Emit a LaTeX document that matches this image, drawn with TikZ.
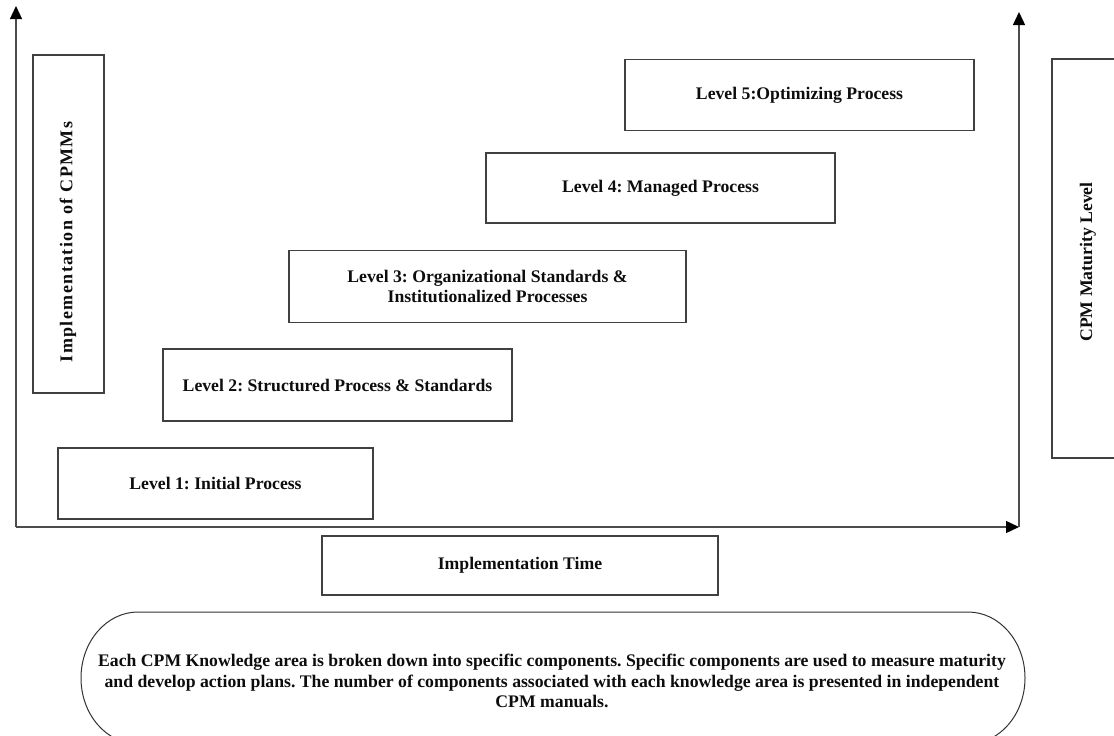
\documentclass[tikz,border=0pt]{standalone}
\usepackage{fontspec}
\setmainfont{Liberation Serif}
\usetikzlibrary{arrows.meta}
\frenchspacing
\begin{document}
\begin{tikzpicture}[x=1pt,y=-1pt,
  every node/.style={font=\fontsize{17.7}{20.5}\selectfont\bfseries, text=black!95},
  stagebox/.style={draw=black!75, line width=1.1pt, rectangle, align=center, inner sep=0pt},
  axis/.style={draw=black!70, line width=1.3pt, -{Triangle[length=13pt,width=12pt,black]}},
  vlabel/.style={rotate=90, inner sep=0pt}]
  \useasboundingbox (0,0) rectangle (1114,736);
  \clip (0,0) rectangle (1114,736);

  % axes
  \coordinate (origin) at (16,527);
  \coordinate (ytop) at (16,6);
  \coordinate (xend) at (1019,527);
  \coordinate (rtop) at (1019,12);
  \draw[axis] (origin) -- (ytop);
  \draw[axis] (origin) -- (xend);
  \draw[axis] (xend) -- (rtop);

  % side labels
  \node[stagebox, minimum width=71, minimum height=338] (impl) at (68.5,224) {};
  \node[vlabel, font=\fontsize{18}{20}\selectfont\bfseries\addfontfeature{LetterSpace=8}] (impltext) at (68,242) {Implementation of CPMMs};
  \node[stagebox, minimum width=72, minimum height=399] (maturity) at (1088,258.5) {};
  \node[vlabel] (maturitytext) at (1088,262) {CPM Maturity Level};

  % maturity levels
  \node[stagebox, minimum width=315, minimum height=71] (l1) at (215.5,483.5) {Level 1: Initial Process};
  \node[stagebox, minimum width=349, minimum height=72] (l2) at (337.5,385) {Level 2: Structured Process \& Standards};
  \node[stagebox, minimum width=397, minimum height=72] (l3) at (487.5,286.5) {Level 3: Organizational Standards \&\\Institutionalized Processes};
  \node[stagebox, minimum width=349, minimum height=70] (l4) at (660.5,188) {Level 4: Managed Process};
  \node[stagebox, minimum width=349, minimum height=71] (l5) at (799.5,95) {Level 5:Optimizing Process};

  % horizontal axis label
  \node[stagebox, minimum width=396, minimum height=59] (time) at (520,565.5) {Implementation Time};

  % note
  \draw[black!80, line width=1pt] (138,612) -- (968,612)
    arc[start angle=270, end angle=450, x radius=57, y radius=66]
    -- (138,744)
    arc[start angle=90, end angle=270, x radius=57, y radius=66] -- cycle;
  \node[align=center] (note) at (552,681)
    {Each CPM Knowledge area is broken down into specific components. Specific components are used to measure maturity\\
     and develop action plans. The number of components associated with each knowledge area is presented in independent\\
     CPM manuals.};
\end{tikzpicture}
\end{document}
